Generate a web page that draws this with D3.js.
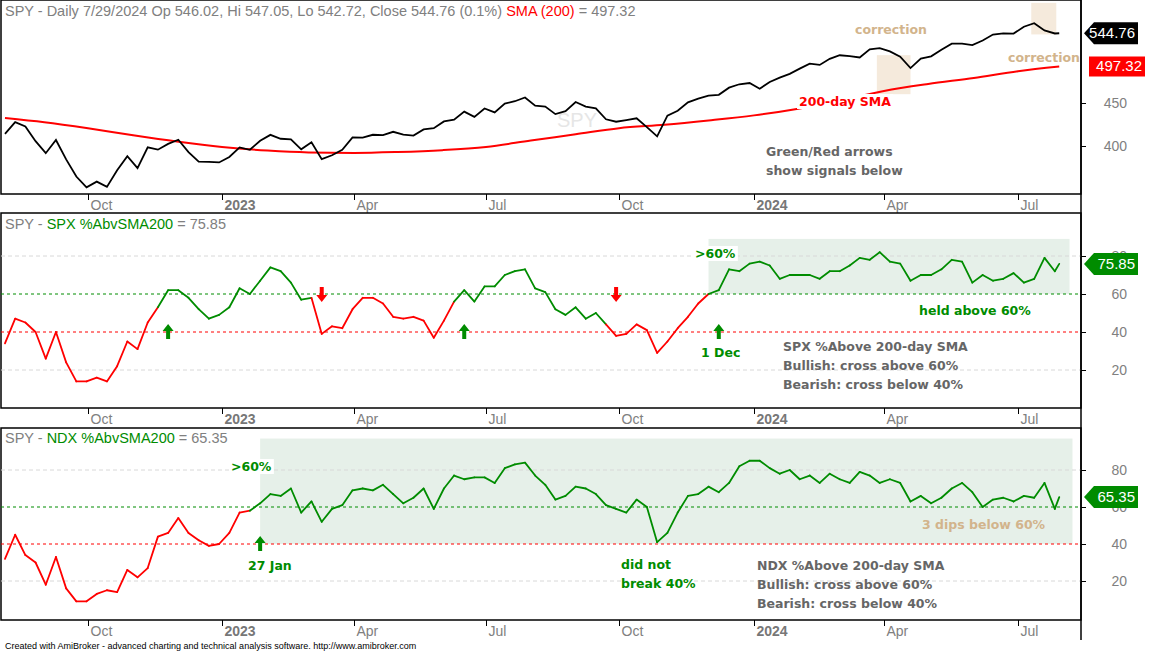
<!DOCTYPE html>
<html>
<head>
<meta charset="utf-8">
<script src="https://cdn.jsdelivr.net/npm/d3@7"></script>
<style>
  body { margin: 0; background: #fff; }
  svg { display: block; font-family: "Liberation Sans", Arial, sans-serif; }
  .note { font-family: "DejaVu Sans", Verdana, sans-serif; font-weight: bold; font-size: 12.5px; }
</style>
</head>
<body>
<svg id="chart" width="1150" height="651"></svg>
<script>
// weekly closes, Fridays from 5 Aug 2022 to 26 Jul 2024, then the last bar 29 Jul 2024
const spyClose = [413.5, 427.1, 422.1, 405.3, 392.2, 406.6, 385.6, 367.9, 357.2, 362.8, 357.6, 374.3, 389.0, 376.4, 398.5, 396.0, 402.3, 406.9, 393.3, 383.3, 382.9, 382.4,
  388.1, 398.5, 395.9, 405.7, 412.4, 408.0, 407.3, 396.4, 404.2, 385.9, 390.0, 395.8, 409.4, 409.2, 412.5, 412.2, 415.9, 412.6, 411.6, 418.6, 420.0, 427.9, 429.9, 439.5, 433.2, 443.3,
  438.6, 449.3, 452.2, 456.9, 446.8, 445.7, 436.5, 440.0, 451.2, 445.5, 443.4, 430.4, 427.5, 429.5, 431.5, 421.2, 410.7, 434.7, 440.6, 450.8, 455.3, 459.1, 460.2, 469.3, 473.7, 475.3,
  467.9, 476.7, 482.4, 487.4, 494.4, 501.2, 499.5, 507.9, 512.9, 511.7, 509.8, 521.2, 523.1, 518.4, 510.9, 495.2, 508.3, 511.3, 520.8, 529.5, 529.4, 527.4, 534.0, 542.8, 544.5, 544.2,
  554.6, 560.0, 549.0, 544.4, 544.76];

const spxAbove = [34, 47, 45, 40, 26, 40, 24, 14, 14, 16, 14, 22, 35, 31, 45, 53, 62, 62, 58, 52, 47, 49, 53, 63, 60, 67, 74, 72, 66, 57, 58, 39,
  43, 42, 52, 58, 58, 55, 48, 47, 48, 46, 37, 46, 56, 62, 56, 64, 64, 70, 72, 73, 63, 61, 52, 49, 53, 47, 50, 44, 38, 39, 44, 41, 29, 35,
  42, 48, 55, 60, 62, 73, 72, 76, 77, 75, 68, 70, 70, 70, 68, 72, 72, 75, 79, 78, 82, 77, 76, 67, 70, 70, 73, 78, 77, 66, 70, 67, 68, 71,
  66, 68, 79, 72, 75.85];

const ndxAbove = [32, 45, 34, 30, 18, 33, 16, 9, 9, 13, 15, 14, 26, 22, 27, 44, 46, 54, 46, 42, 39, 40, 46, 57, 58, 62, 67, 66, 70, 57, 63, 52,
  59, 61, 69, 70, 69, 72, 67, 62, 65, 70, 59, 70, 77, 75, 76, 76, 73, 81, 83, 84, 77, 72, 64, 66, 71, 70, 67, 61, 59, 57, 64, 60, 41, 46,
  57, 66, 67, 71, 68, 73, 82, 85, 85, 81, 78, 80, 75, 77, 73, 78, 75, 73, 79, 77, 73, 75, 73, 63, 66, 62, 65, 70, 73, 68, 60, 64, 65, 63,
  66, 65, 73, 59, 65.35];

// 200-day SMA, sampled monthly
const smaDates = ["2022-08-05", "2022-09-01", "2022-10-01", "2022-11-01", "2022-12-01", "2023-01-01", "2023-02-01", "2023-03-01", "2023-04-01",
  "2023-05-01", "2023-06-01", "2023-07-01", "2023-08-01", "2023-09-01", "2023-10-01", "2023-11-01", "2023-12-01", "2024-01-01", "2024-02-01",
  "2024-03-01", "2024-04-01", "2024-05-01", "2024-06-01", "2024-07-01", "2024-07-29"];
const smaValues = [432, 427, 420, 412, 405, 399, 395, 393, 392.5, 393.5, 395.5, 399, 406, 413, 420, 424, 429, 435, 443, 453, 465, 474, 482, 491, 497.32];

const tickDates = ["2022-10-01", "2023-01-01", "2023-04-01", "2023-07-01", "2023-10-01", "2024-01-01", "2024-04-01", "2024-07-01"];
const tickLabels = ["Oct", "2023", "Apr", "Jul", "Oct", "2024", "Apr", "Jul"];
const tickX = [88, 222, 354, 486, 619, 754, 884, 1018];

const parse = d3.timeParse("%Y-%m-%d");
const dates = d3.timeFriday.range(new Date(2022, 7, 5), new Date(2024, 6, 27));
dates.push(new Date(2024, 6, 29));

const GREEN = "#008c00", RED = "#ff0000", GREY = "#808080", TAN = "#d2b48c", TXT = "#666";

const svg = d3.select("#chart");
const x = d3.scaleTime().domain(tickDates.map(parse)).range(tickX);
const X0 = 1, X1 = 1081;

const panels = [
  { top: 0, bottom: 194, y: d3.scaleLog().domain([400, 450]).range([146, 103]), ticks: [400, 450] },
  { top: 213, bottom: 408, y: d3.scaleLinear().domain([0, 80]).range([408, 256]), ticks: [20, 40, 60, 80] },
  { top: 428, bottom: 620, y: d3.scaleLinear().domain([0, 80]).range([618, 470]), ticks: [20, 40, 60, 80] }
];

// shaded zones
const zone = (p, d0, d1, v0, v1, fill) => svg.append("rect")
  .attr("x", x(d0)).attr("width", x(d1) - x(d0))
  .attr("y", p.y(v1)).attr("height", p.y(v0) - p.y(v1)).attr("fill", fill);
zone(panels[1], parse("2023-12-01"), parse("2024-08-05"), 60, 89, "#e6f0e9");
zone(panels[2], parse("2023-01-27"), parse("2024-08-07"), 40, 97, "#e6f0e9");
zone(panels[0], parse("2024-03-27"), parse("2024-04-19"), 461, 513, "#f5eadc");
zone(panels[0], parse("2024-07-10"), parse("2024-07-27"), 543, 592, "#f5eadc");

// frames, axes
panels.forEach((p, i) => {
  svg.append("rect").attr("x", X0).attr("y", p.top).attr("width", X1 - X0).attr("height", p.bottom - p.top)
    .attr("fill", "none").attr("stroke", "#000").attr("stroke-width", 1.5);
  const ya = svg.append("g").attr("transform", `translate(${X1},0)`)
    .call(d3.axisRight(p.y).tickValues(p.ticks).tickSize(5).tickFormat(d3.format("d")));
  ya.select(".domain").remove();
  ya.selectAll("text").attr("x", 46).attr("text-anchor", "end").attr("fill", GREY).attr("font-size", 14).attr("font-family", "Liberation Sans, Arial");
  const xa = svg.append("g").attr("transform", `translate(0,${p.bottom})`)
    .call(d3.axisBottom(x).tickValues(tickDates.map(parse)).tickSize(6).tickFormat((d, j) => tickLabels[j]));
  xa.select(".domain").remove();
  xa.selectAll("text").attr("text-anchor", "start").attr("x", 2).attr("y", 6).attr("dy", "0.71em")
    .attr("font-size", 14).attr("font-family", "Liberation Sans, Arial")
    .attr("fill", (d, j) => tickLabels[j].length === 4 ? "#777" : GREY)
    .attr("font-weight", (d, j) => tickLabels[j].length === 4 ? "bold" : "normal");
  if (i > 0) {
    [20, 80].forEach(v => svg.append("line").attr("x1", X0).attr("x2", X1).attr("y1", p.y(v)).attr("y2", p.y(v))
      .attr("stroke", "#d8d8d8").attr("stroke-dasharray", "4,3"));
    svg.append("line").attr("x1", X0).attr("x2", X1).attr("y1", p.y(60)).attr("y2", p.y(60)).attr("stroke", GREEN).attr("stroke-dasharray", "3,3");
    svg.append("line").attr("x1", X0).attr("x2", X1).attr("y1", p.y(40)).attr("y2", p.y(40)).attr("stroke", RED).attr("stroke-dasharray", "3,3");
  }
});
svg.append("line").attr("x1", X1).attr("x2", X1).attr("y1", 0).attr("y2", 640).attr("stroke", "#000").attr("stroke-width", 1.5);

// top panel
const P0 = panels[0];
svg.append("text").attr("x", 557).attr("y", 127).attr("font-size", 20).attr("fill", "#e6e6e6").text("SPY");
svg.append("path").datum(smaValues.map((v, i) => [parse(smaDates[i]), v]))
  .attr("fill", "none").attr("stroke", RED).attr("stroke-width", 2)
  .attr("d", d3.line().x(d => x(d[0])).y(d => P0.y(d[1])).curve(d3.curveMonotoneX));
svg.append("path").datum(spyClose.map((v, i) => [dates[i], v]))
  .attr("fill", "none").attr("stroke", "#000").attr("stroke-width", 1.8)
  .attr("d", d3.line().x(d => x(d[0])).y(d => P0.y(d[1])));

// signal lines with state colour
function signalLine(p, vals, arrows) {
  let state = 0; // 0 bearish, 1 bullish
  const st = vals.map((v, i) => {
    const prev = state;
    if (state === 0 && v > 60) state = 1;
    else if (state === 1 && v < 40) state = 0;
    if (i > 0 && prev !== state) arrows.push({ d: dates[i], up: state === 1 });
    return state;
  });
  for (let i = 1; i < vals.length; i++) {
    svg.append("line").attr("x1", x(dates[i - 1])).attr("y1", p.y(vals[i - 1]))
      .attr("x2", x(dates[i])).attr("y2", p.y(vals[i]))
      .attr("stroke", st[i] ? GREEN : RED).attr("stroke-width", 1.8).attr("stroke-linecap", "round");
  }
  arrows.forEach(a => {
    const cx = x(a.d), cy = a.up ? p.y(40) : p.y(60), s = a.up ? -1 : 1;
    svg.append("path").attr("fill", a.up ? GREEN : RED)
      .attr("d", `M${cx},${cy + 8 * s} L${cx - 5.5},${cy + 1 * s} L${cx - 2},${cy + 1 * s} L${cx - 2},${cy - 7 * s} L${cx + 2},${cy - 7 * s} L${cx + 2},${cy + 1 * s} L${cx + 5.5},${cy + 1 * s} Z`);
  });
}
signalLine(panels[1], spxAbove, []);
signalLine(panels[2], ndxAbove, []);

// value tags
function tag(yv, label, fill, pointer) {
  const g = svg.append("g").attr("transform", `translate(1084,${yv})`);
  g.append("path").attr("fill", fill)
    .attr("d", pointer ? "M0,0 L10,-11 L54,-11 L54,11 L10,11 Z" : "M5,-10 L61,-10 L61,10 L5,10 Z");
  g.append("text").attr("x", pointer ? 51 : 58).attr("y", 5).attr("text-anchor", "end").attr("fill", "#fff").attr("font-size", 15).text(label);
}
tag(P0.y(544.76), "544.76", "#000", true);
tag(P0.y(497.32), "497.32", RED, false);
tag(panels[1].y(75.85), "75.85", GREEN, true);
tag(panels[2].y(65.35), "65.35", GREEN, true);

// headers
function header(y, parts) {
  const t = svg.append("text").attr("x", 5).attr("y", y).attr("font-size", 14.5);
  parts.forEach(([s, c]) => t.append("tspan").attr("fill", c).text(s));
}
header(16, [["SPY - Daily 7/29/2024 Op 546.02, Hi 547.05, Lo 542.72, Close 544.76 (0.1%) ", GREY], ["SMA (200)", RED], [" = 497.32", GREY]]);
header(229, [["SPY - ", GREY], ["SPX %AbvSMA200", GREEN], [" = 75.85", GREY]]);
header(443, [["SPY - ", GREY], ["NDX %AbvSMA200", GREEN], [" = 65.35", GREY]]);

// annotations
function note(xp, yp, s, c, bg) {
  const t = svg.append("text").attr("class", "note").attr("x", xp).attr("y", yp).attr("fill", c).text(s);
  if (bg) {
    const b = t.node().getBBox();
    svg.insert("rect", () => t.node()).attr("x", b.x - 2).attr("y", b.y).attr("width", b.width + 4).attr("height", b.height).attr("fill", "#fff");
  }
}
note(855, 34, "correction", TAN);
note(1008, 62, "correction", TAN);
note(799, 106, "200-day SMA", RED, true);
note(766, 156, "Green/Red arrows", TXT);
note(766, 175, "show signals below", TXT);
note(695, 258, ">60%", GREEN, true);
note(919, 315, "held above 60%", GREEN);
note(701, 357, "1 Dec", GREEN);
note(783, 351, "SPX %Above 200-day SMA", TXT);
note(783, 370, "Bullish: cross above 60%", TXT);
note(783, 389, "Bearish: cross below 40%", TXT);
note(231, 471, ">60%", GREEN, true);
note(248, 570, "27 Jan", GREEN);
note(922, 529, "3 dips below 60%", TAN);
note(621, 569, "did not", GREEN);
note(621, 588, "break 40%", GREEN);
note(757, 570, "NDX %Above 200-day SMA", TXT);
note(757, 589, "Bullish: cross above 60%", TXT);
note(757, 608, "Bearish: cross below 40%", TXT);

svg.append("text").attr("x", 5).attr("y", 649).attr("font-size", 9).attr("fill", "#000")
  .text("Created with AmiBroker - advanced charting and technical analysis software. http://www.amibroker.com");
</script>
</body>
</html>
